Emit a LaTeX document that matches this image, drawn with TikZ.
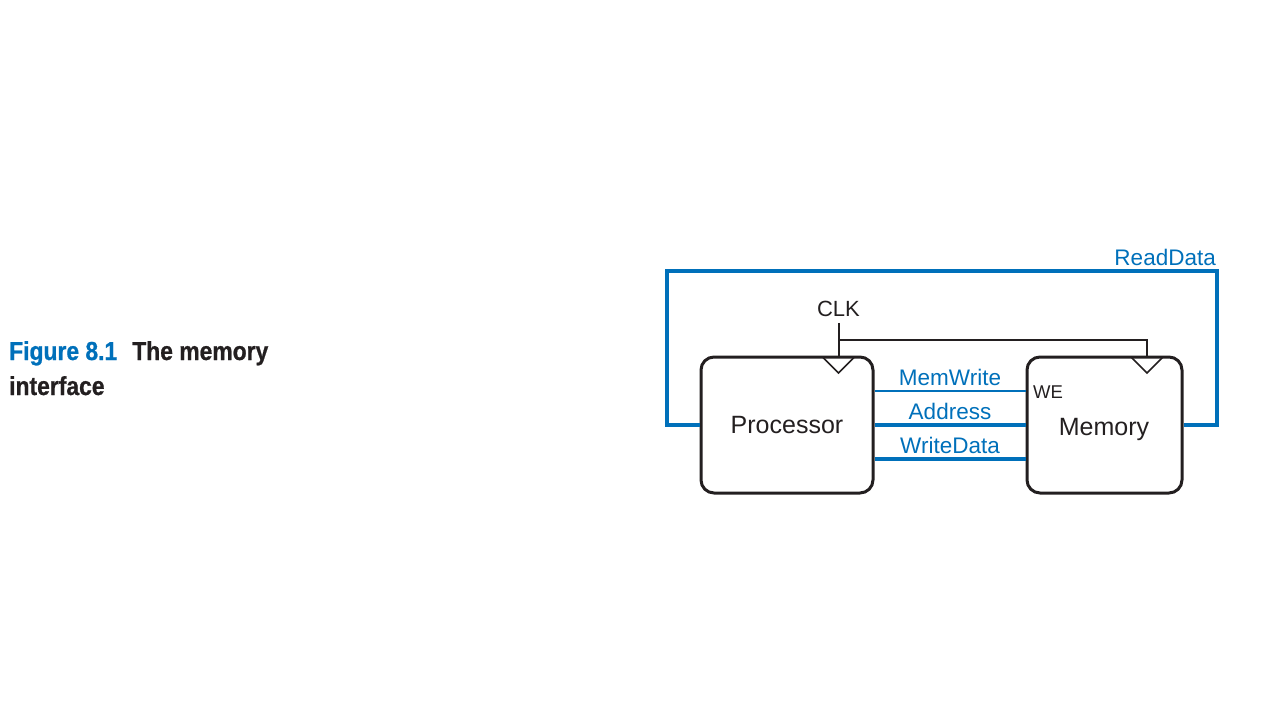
\documentclass[tikz,border=0pt]{standalone}
\usepackage{fontspec}
\setmainfont{Liberation Sans}
\newfontfamily\capfont[FakeStretch=0.88, BoldFeatures={FakeBold=0.8}]{Liberation Sans}
\definecolor{figblue}{RGB}{0,112,186}
\definecolor{inkblack}{RGB}{35,31,32}
\begin{document}
\begin{tikzpicture}[x=1pt,y=-1pt,
  unit/.style={draw=inkblack, line width=3pt, rounded corners=13pt, inner sep=0pt,
    minimum height=136pt},
  unitlabel/.style={font=\fontsize{25}{30}\selectfont, text=inkblack, inner sep=0pt, anchor=base},
  bus/.style={draw=figblue, line width=3.6pt},
  thinbus/.style={draw=figblue, line width=2.2pt},
  siglabel/.style={text=figblue, font=\fontsize{22.5}{27}\selectfont, inner sep=0pt},
  clkwire/.style={draw=inkblack, line width=2pt},
  clktri/.style={draw=inkblack, line width=1.6pt, line join=miter},
  caption/.style={anchor=base west, inner sep=0pt, font=\capfont\bfseries\fontsize{26}{30}\selectfont}
]
\useasboundingbox (0,0) rectangle (1280,720);

% caption
\node[caption] (cap1) at (9,360)
  {\textcolor{figblue}{Figure 8.1}\hspace{15pt}\textcolor{inkblack}{The memory}};
\node[caption, text=inkblack] (cap2) at (9,395) {interface};

% units
\node[unit, minimum width=172pt] (proc) at (787,425) {};
\node[unitlabel] (proclbl) at (787,433) {Processor};
\node[unit, minimum width=155pt] (mem) at (1104.5,425) {};
\node[unitlabel] (memlbl) at (1104,435) {Memory};
\node[anchor=west, font=\fontsize{18.5}{22}\selectfont, text=inkblack, inner sep=0pt] (we) at (1033,392) {WE};

% clock
\node[font=\fontsize{22}{26}\selectfont, text=inkblack, inner sep=0pt] (clk) at (838.5,309) {CLK};
\coordinate (pclk) at (838.5,357);
\coordinate (mclk) at (1147,357);
\coordinate (clkj) at (838.5,340);
\draw[clkwire] ([yshift=-6pt]clk.south) -- (pclk);
\draw[clkwire] (clkj) -| (mclk);
\draw[clktri] (pclk) ++(-16,0) -- ++(16,16) -- ++(16,-16);
\draw[clktri] (mclk) ++(-16,0) -- ++(16,16) -- ++(16,-16);

% signals
\draw[thinbus] ([yshift=34pt]proc.east) -- node[siglabel, above=4pt] (mw) {MemWrite} ([yshift=34pt]mem.west);
\draw[bus] (proc.east) -- node[siglabel, above=3pt] (ad) {Address} (mem.west);
\draw[bus] ([yshift=-34pt]proc.east) -- node[siglabel, above=3pt] (wd) {WriteData} ([yshift=-34pt]mem.west);

% read data loop
\coordinate (rdR) at (1217,271);
\coordinate (rdL) at (667,271);
\draw[bus, line join=miter] (mem.east) -| (rdR) -- (rdL) |- (proc.west);
\node[siglabel, anchor=base east] (rd) at (1216,265) {ReadData};
\end{tikzpicture}
\end{document}
